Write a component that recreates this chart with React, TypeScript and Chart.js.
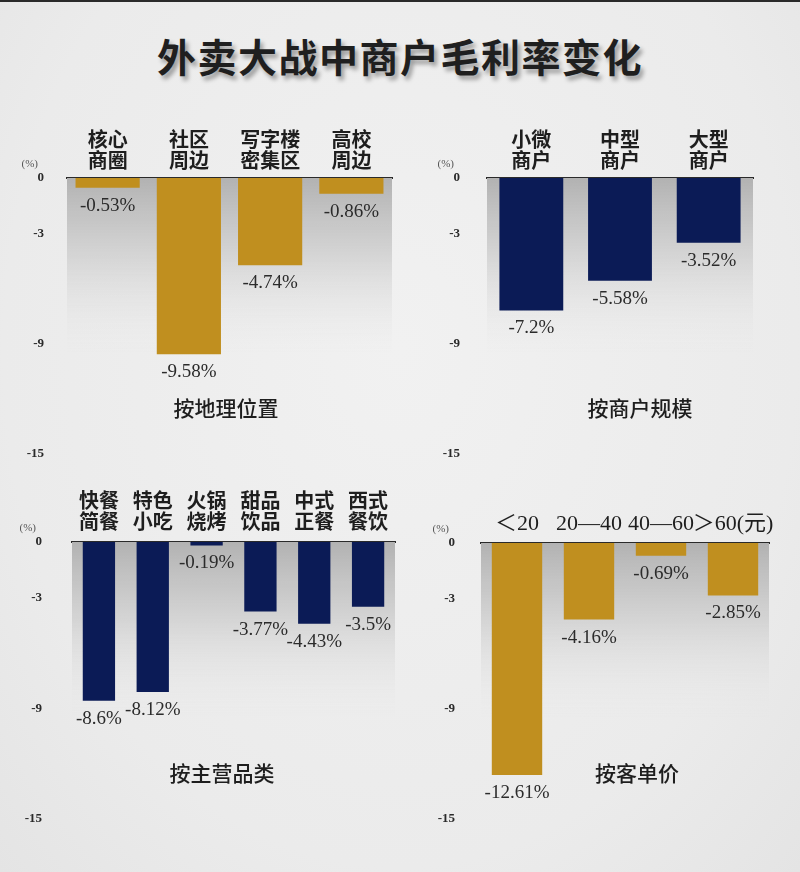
import React, { useEffect, useRef } from 'react';
import { Chart, registerables } from 'chart.js';

Chart.register(...registerables);

// ---------- data ----------
const Y_TICKS = [0, -3, -9, -15];

const geoCategories = [['核心', '商圈'], ['社区', '周边'], ['写字楼', '密集区'], ['高校', '周边']];
const geoValues = [-0.53, -9.58, -4.74, -0.86];

const sizeCategories = [['小微', '商户'], ['中型', '商户'], ['大型', '商户']];
const sizeValues = [-7.2, -5.58, -3.52];

const cuisineCategories = [['快餐', '简餐'], ['特色', '小吃'], ['火锅', '烧烤'], ['甜品', '饮品'], ['中式', '正餐'], ['西式', '餐饮']];
const cuisineValues = [-8.6, -8.12, -0.19, -3.77, -4.43, -3.5];

const priceCategories = ['＜20', '20—40', '40—60', '＞60(元)'];
const priceValues = [-12.61, -4.16, -0.69, -2.85];

const MAIN_TITLE = '外卖大战中商户毛利率变化';
const PANEL_TITLES = ['按地理位置', '按商户规模', '按主营品类', '按客单价'];

// ---------- styles ----------
const GOLD = '#C08F1F';
const NAVY = '#0B1B56';
const BG = '#ebebeb';
const CJK = '"Liberation Serif", "Noto Sans CJK SC", serif';

type Panel = {
  labels: any[];
  values: number[];
  color: string;
  box: { left: number; top: number; width: number; height: number };
  area: { left: number; top: number; right: number; bottom: number };
  barPct: number;
  tickPad: number;
  labelPad: number;
  labelWeight: string;
  labelSize: number;
  title: string;
  titlePos: { x: number; y: number };
};

const panels: Panel[] = [
  {
    labels: geoCategories, values: geoValues, color: GOLD,
    box: { left: 0, top: 100, width: 400, height: 360 },
    area: { left: 67, top: 176, right: 392, bottom: 452 },
    barPct: 0.79, tickPad: 23, labelPad: 5, labelWeight: '600', labelSize: 20,
    title: PANEL_TITLES[0], titlePos: { x: 226, y: 405 },
  },
  {
    labels: sizeCategories, values: sizeValues, color: NAVY,
    box: { left: 400, top: 100, width: 400, height: 360 },
    area: { left: 487, top: 176, right: 753, bottom: 452 },
    barPct: 0.72, tickPad: 27, labelPad: 5, labelWeight: '600', labelSize: 20,
    title: PANEL_TITLES[1], titlePos: { x: 640, y: 405 },
  },
  {
    labels: cuisineCategories, values: cuisineValues, color: NAVY,
    box: { left: 0, top: 465, width: 400, height: 360 },
    area: { left: 72, top: 540, right: 395, bottom: 817 },
    barPct: 0.6, tickPad: 30, labelPad: 8, labelWeight: '600', labelSize: 20,
    title: PANEL_TITLES[2], titlePos: { x: 222, y: 770 },
  },
  {
    labels: priceCategories, values: priceValues, color: GOLD,
    box: { left: 400, top: 465, width: 400, height: 360 },
    area: { left: 481, top: 541, right: 769, bottom: 817 },
    barPct: 0.7, tickPad: 26, labelPad: 7, labelWeight: 'normal', labelSize: 22,
    title: PANEL_TITLES[3], titlePos: { x: 637, y: 770 },
  },
];

const plotBgPlugin = {
  id: 'plotBg',
  beforeDatasetsDraw(chart: any) {
    const { ctx, chartArea } = chart;
    const h = 175;
    const g = ctx.createLinearGradient(0, chartArea.top, 0, chartArea.top + h);
    g.addColorStop(0, 'rgba(178,178,178,1)');
    g.addColorStop(0.45, 'rgba(210,210,210,0.9)');
    g.addColorStop(1, 'rgba(235,235,235,0)');
    ctx.save();
    ctx.fillStyle = g;
    ctx.fillRect(chartArea.left, chartArea.top, chartArea.right - chartArea.left, h);
    ctx.restore();
  },
};

const valueLabelPlugin = {
  id: 'valueLabels',
  afterDatasetsDraw(chart: any) {
    const { ctx } = chart;
    const meta = chart.getDatasetMeta(0);
    const vals = chart.data.datasets[0].data as number[];
    ctx.save();
    ctx.font = '19px "Liberation Serif", serif';
    ctx.fillStyle = '#2b2b2b';
    ctx.textAlign = 'center';
    ctx.textBaseline = 'middle';
    meta.data.forEach((bar: any, i: number) => {
      ctx.fillText(`${vals[i]}%`, bar.x, bar.y + 18);
    });
    // unit label
    const ys = chart.scales.y;
    const pad = chart.options.scales.y.ticks.padding;
    ctx.font = '11px "Liberation Serif", serif';
    ctx.fillStyle = '#555';
    ctx.textAlign = 'right';
    ctx.fillText('(%)', ys.right - pad - 6, chart.chartArea.top - 14);
    ctx.restore();
  },
};

function PanelChart({ p }: { p: Panel }) {
  const ref = useRef<HTMLCanvasElement>(null);
  useEffect(() => {
    if (!ref.current) return;
    const yWidth = p.area.left - p.box.left;
    const xHeight = p.area.top - p.box.top;
    const chart = new Chart(ref.current, {
      type: 'bar',
      data: {
        labels: p.labels,
        datasets: [
          {
            data: p.values,
            backgroundColor: p.color,
            borderWidth: 0,
            barPercentage: p.barPct,
            categoryPercentage: 1,
          },
        ],
      },
      options: {
        animation: false,
        responsive: false,
        maintainAspectRatio: false,
        events: [],
        layout: {
          padding: {
            left: 0,
            top: 0,
            right: p.box.left + p.box.width - p.area.right,
            bottom: p.box.top + p.box.height - p.area.bottom,
          },
        },
        plugins: { legend: { display: false }, tooltip: { enabled: false }, title: { display: false } },
        scales: {
          x: {
            position: 'top',
            grid: { display: false, drawTicks: false },
            border: { display: true, color: '#2a2a2a', width: 2 },
            ticks: {
              autoSkip: false,
              maxRotation: 0,
              minRotation: 0,
              padding: p.labelPad,
              color: '#1e1e1e',
              font: { family: CJK, size: p.labelSize, weight: p.labelWeight, lineHeight: 1.05 },
            },
            afterFit: (s: any) => { s.height = xHeight; },
          },
          y: {
            min: -15,
            max: 0,
            grid: { display: false, drawTicks: false },
            border: { display: false },
            ticks: {
              padding: p.tickPad,
              color: '#2a2a2a',
              font: { family: '"Liberation Serif", serif', size: 13, weight: 'bold' },
              callback: (v: any) => String(v),
            },
            afterBuildTicks: (s: any) => { s.ticks = Y_TICKS.map((v) => ({ value: v })); },
            afterFit: (s: any) => {
              s.width = yWidth;
              s.paddingTop = 6;
              s.paddingBottom = 6;
            },
          },
        },
      } as any,
      plugins: [plotBgPlugin, valueLabelPlugin],
    });
    return () => chart.destroy();
  }, [p]);
  return (
    <canvas
      ref={ref}
      width={p.box.width}
      height={p.box.height}
      style={{ position: 'absolute', left: p.box.left, top: p.box.top, width: p.box.width, height: p.box.height }}
    />
  );
}

export default function App() {
  return (
    <div
      style={{
        position: 'absolute',
        left: 0,
        top: 0,
        width: 800,
        height: 872,
        overflow: 'hidden',
        background: `radial-gradient(ellipse at 50% 40%, #f1f1f1 0%, ${BG} 70%, #e4e4e4 100%)`,
        borderTop: '2px solid #2a2a2a',
        boxSizing: 'border-box',
      }}
    >
      <div
        style={{
          position: 'absolute',
          left: 0,
          width: 800,
          top: 27,
          textAlign: 'center',
          fontFamily: '"Noto Sans CJK SC", sans-serif',
          fontWeight: 'bold',
          fontSize: 39,
          lineHeight: '52px',
          color: '#1f1f1f',
          letterSpacing: 1.5,
          textShadow: '3px 4px 4px rgba(0,0,0,0.35)',
        }}
      >
        {MAIN_TITLE}
      </div>
      {panels.map((p, i) => (
        <PanelChart key={i} p={p} />
      ))}
      {panels.map((p, i) => (
        <div
          key={'t' + i}
          style={{
            position: 'absolute',
            left: p.titlePos.x - 100,
            width: 200,
            top: p.titlePos.y - 15,
            lineHeight: '30px',
            textAlign: 'center',
            fontFamily: '"Noto Sans CJK SC", sans-serif',
            fontWeight: 500,
            fontSize: 21,
            color: '#1e1e1e',
          }}
        >
          {p.title}
        </div>
      ))}
    </div>
  );
}
